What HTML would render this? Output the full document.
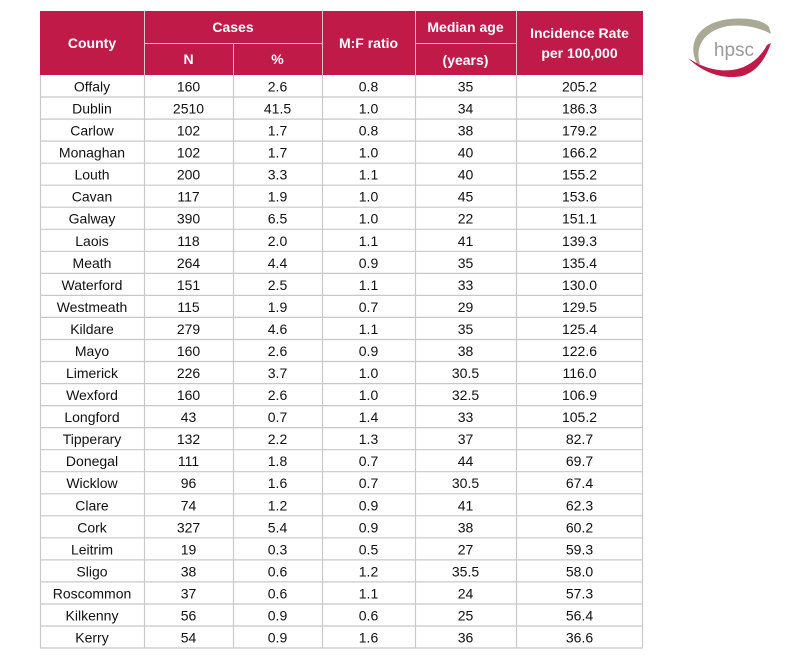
<!DOCTYPE html>
<html><head><meta charset="utf-8"><style>
html,body{margin:0;padding:0;background:#fff;width:789px;height:659px;overflow:hidden;font-family:"Liberation Sans",sans-serif}
svg{display:block}
svg text{font-family:"Liberation Sans",sans-serif}
</style></head><body>
<svg width="789" height="659" viewBox="0 0 789 659" xmlns="http://www.w3.org/2000/svg" font-family="Liberation Sans, sans-serif">
<rect x="40" y="11" width="603" height="64" fill="#c01a48"/>
<g stroke="#d9c2ca" stroke-width="1">
<line x1="144.5" y1="11" x2="144.5" y2="75"/><line x1="322.5" y1="11" x2="322.5" y2="75"/>
<line x1="415.5" y1="11" x2="415.5" y2="75"/><line x1="516.5" y1="11" x2="516.5" y2="75"/>
<line x1="233.5" y1="43" x2="233.5" y2="75"/>
<line x1="144" y1="43.5" x2="322" y2="43.5"/><line x1="415" y1="43.5" x2="516" y2="43.5"/>
</g>
<g fill="#fff" font-weight="bold" font-size="14" text-anchor="middle" font-family="Liberation Sans, sans-serif">
<text x="92" y="48">County</text>
<text x="233" y="32">Cases</text>
<text x="188.5" y="64">N</text>
<text x="277.5" y="64">%</text>
<text x="368.5" y="48">M:F ratio</text>
<text x="465.5" y="32">Median age</text>
<text x="465.5" y="65">(years)</text>
<text x="579.5" y="38">Incidence Rate</text>
<text x="579.5" y="58">per 100,000</text>
</g>
<g id="rows" font-size="14" fill="#111" text-anchor="middle" font-family="Liberation Sans, sans-serif"></g>
<g stroke="#c8c8c8" stroke-width="1.2" id="grid"></g>
<path d="M697 64 C686 42 700 22 730 19 C750 17 764 21 769 27 L771 34 C760 28 745 24 728 26 C706 30 694 45 700 64 Z" fill="#a9a996"/>
<path d="M688 58 C702 72 722 80 742 76 C757 72 766 58 771 43 L767 45 C760 58 748 68 732 70 C715 72 700 66 688 58 Z" fill="#c01a48"/>
<text x="734" y="56" font-size="19" fill="#9a9a9a" text-anchor="middle" font-family="Liberation Sans, sans-serif">hpsc</text>
</svg>
<script>
var d=[["Offaly","160","2.6","0.8","35","205.2"],["Dublin","2510","41.5","1.0","34","186.3"],["Carlow","102","1.7","0.8","38","179.2"],["Monaghan","102","1.7","1.0","40","166.2"],["Louth","200","3.3","1.1","40","155.2"],["Cavan","117","1.9","1.0","45","153.6"],["Galway","390","6.5","1.0","22","151.1"],["Laois","118","2.0","1.1","41","139.3"],["Meath","264","4.4","0.9","35","135.4"],["Waterford","151","2.5","1.1","33","130.0"],["Westmeath","115","1.9","0.7","29","129.5"],["Kildare","279","4.6","1.1","35","125.4"],["Mayo","160","2.6","0.9","38","122.6"],["Limerick","226","3.7","1.0","30.5","116.0"],["Wexford","160","2.6","1.0","32.5","106.9"],["Longford","43","0.7","1.4","33","105.2"],["Tipperary","132","2.2","1.3","37","82.7"],["Donegal","111","1.8","0.7","44","69.7"],["Wicklow","96","1.6","0.7","30.5","67.4"],["Clare","74","1.2","0.9","41","62.3"],["Cork","327","5.4","0.9","38","60.2"],["Leitrim","19","0.3","0.5","27","59.3"],["Sligo","38","0.6","1.2","35.5","58.0"],["Roscommon","37","0.6","1.1","24","57.3"],["Kilkenny","56","0.9","0.6","25","56.4"],["Kerry","54","0.9","1.6","36","36.6"]];
var cx=[92,188.5,277.5,368.5,465.5,579.5],h=22.04,t=75,ns="http://www.w3.org/2000/svg",r=document.getElementById("rows"),g=document.getElementById("grid");
function ln(a,b,c,e){var l=document.createElementNS(ns,"line");l.setAttribute("x1",a);l.setAttribute("y1",b);l.setAttribute("x2",c);l.setAttribute("y2",e);g.appendChild(l);}
d.forEach(function(row,i){var y=t+h*i;row.forEach(function(v,j){var e=document.createElementNS(ns,"text");e.setAttribute("x",cx[j]);e.setAttribute("y",(y+16.5).toFixed(1));e.setAttribute("font-family","Liberation Sans, sans-serif");e.textContent=v;r.appendChild(e);});ln(40,(y+h).toFixed(1),643,(y+h).toFixed(1));});
var b=t+h*d.length;[40.5,144.5,233.5,322.5,415.5,516.5,642.5].forEach(function(x){ln(x,t,x,b);});
</script>
</body></html>
